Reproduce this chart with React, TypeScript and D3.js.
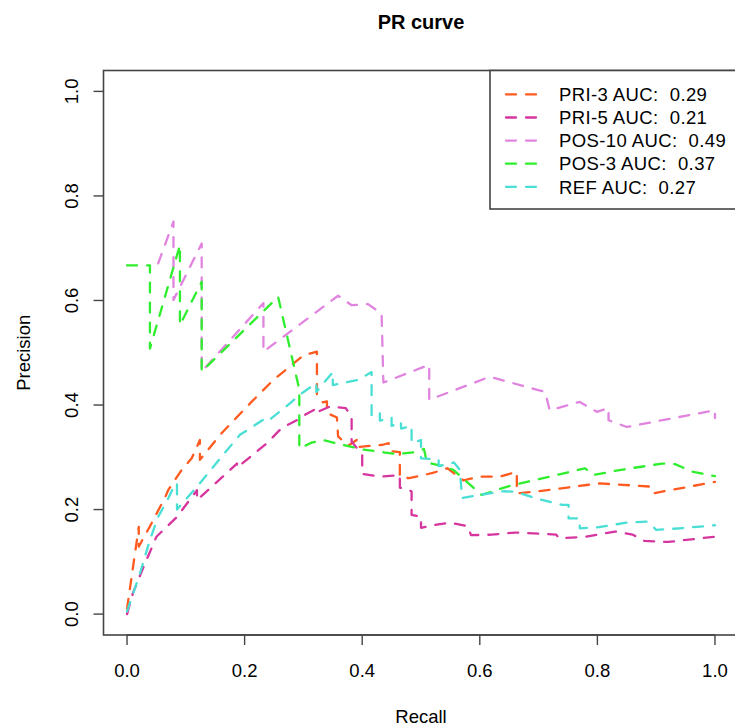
import React from "react";
import * as d3 from "d3";

const seriesNames = ["PRI-3", "PRI-5", "POS-10", "POS-3", "REF"];
const aucValues = ["0.29", "0.21", "0.49", "0.37", "0.27"];
const seriesColors = ["#FF5A1F", "#D6359F", "#E184E0", "#2EEE2E", "#4ADFD5"];
const xTicks = [0, 0.2, 0.4, 0.6, 0.8, 1.0];
const yTicks = [0, 0.2, 0.4, 0.6, 0.8, 1.0];

const pri3: [number, number][] = [
  [0, 0.01], [0.02, 0.167], [0.02, 0.129], [0.04, 0.17], [0.065, 0.224], [0.07, 0.237],
  [0.087, 0.266], [0.093, 0.276], [0.11, 0.298], [0.124, 0.333], [0.124, 0.295],
  [0.16, 0.345], [0.21, 0.404], [0.249, 0.448], [0.30, 0.495], [0.323, 0.502],
  [0.323, 0.42], [0.333, 0.405], [0.34, 0.407], [0.34, 0.385], [0.357, 0.376],
  [0.359, 0.34], [0.376, 0.322], [0.393, 0.335], [0.395, 0.32], [0.435, 0.324],
  [0.445, 0.327], [0.447, 0.312], [0.464, 0.31], [0.464, 0.262], [0.48, 0.26],
  [0.52, 0.27], [0.545, 0.279], [0.572, 0.256], [0.60, 0.263], [0.634, 0.263],
  [0.663, 0.272], [0.663, 0.231], [0.70, 0.235], [0.782, 0.247], [0.804, 0.25],
  [0.889, 0.244], [0.895, 0.231], [1.0, 0.253],
];

const pri5: [number, number][] = [
  [0, 0.0], [0.01, 0.04], [0.028, 0.09], [0.05, 0.148], [0.085, 0.186], [0.119, 0.237],
  [0.119, 0.218], [0.16, 0.26], [0.187, 0.288], [0.187, 0.28], [0.238, 0.327],
  [0.263, 0.356], [0.289, 0.371], [0.305, 0.383], [0.32, 0.392], [0.32, 0.385],
  [0.345, 0.397], [0.372, 0.394], [0.382, 0.378], [0.382, 0.33], [0.40, 0.305],
  [0.40, 0.268], [0.43, 0.263], [0.464, 0.266], [0.464, 0.242], [0.484, 0.235],
  [0.484, 0.19], [0.50, 0.186], [0.50, 0.165], [0.52, 0.17], [0.55, 0.175],
  [0.58, 0.168], [0.585, 0.151], [0.62, 0.152], [0.66, 0.156], [0.70, 0.154],
  [0.73, 0.152], [0.735, 0.145], [0.78, 0.148], [0.83, 0.158], [0.86, 0.152],
  [0.88, 0.14], [0.92, 0.138], [1.0, 0.148],
];

const pos10: [number, number][] = [
  [0.053, 0.671], [0.079, 0.751], [0.079, 0.601], [0.127, 0.709], [0.127, 0.464],
  [0.232, 0.595], [0.232, 0.502], [0.359, 0.609], [0.382, 0.591], [0.41, 0.593],
  [0.433, 0.575], [0.436, 0.443], [0.514, 0.477], [0.514, 0.41], [0.617, 0.454],
  [0.711, 0.425], [0.719, 0.39], [0.77, 0.406], [0.799, 0.387], [0.819, 0.394],
  [0.819, 0.371], [0.85, 0.358], [1.0, 0.39], [1.0, 0.375],
];

const pos3: [number, number][] = [
  [0, 0.667], [0.039, 0.667], [0.039, 0.508], [0.09, 0.706], [0.09, 0.553],
  [0.127, 0.636], [0.127, 0.464], [0.257, 0.607], [0.293, 0.43], [0.293, 0.317],
  [0.314, 0.328], [0.333, 0.333], [0.40, 0.315], [0.46, 0.306], [0.49, 0.31],
  [0.505, 0.316], [0.51, 0.29], [0.53, 0.285], [0.555, 0.276], [0.603, 0.228],
  [0.65, 0.245], [0.70, 0.258], [0.779, 0.279], [0.793, 0.266], [0.84, 0.276],
  [0.91, 0.288], [0.932, 0.287], [0.963, 0.272], [1.0, 0.264],
];

const ref: [number, number][] = [
  [0, 0.005], [0.022, 0.078], [0.039, 0.142], [0.053, 0.186], [0.07, 0.221],
  [0.082, 0.25], [0.085, 0.25], [0.085, 0.2], [0.12, 0.245], [0.16, 0.3],
  [0.192, 0.343], [0.232, 0.372], [0.238, 0.368], [0.277, 0.403], [0.294, 0.42],
  [0.322, 0.442], [0.322, 0.425], [0.35, 0.463], [0.35, 0.438], [0.393, 0.448],
  [0.416, 0.463], [0.416, 0.378], [0.43, 0.384], [0.43, 0.37], [0.45, 0.376],
  [0.45, 0.36], [0.466, 0.368], [0.466, 0.355], [0.484, 0.36], [0.484, 0.327],
  [0.50, 0.333], [0.50, 0.298], [0.53, 0.296], [0.53, 0.283], [0.556, 0.29],
  [0.566, 0.276], [0.57, 0.222], [0.60, 0.228], [0.64, 0.235], [0.66, 0.234],
  [0.70, 0.22], [0.74, 0.209], [0.751, 0.209], [0.751, 0.183], [0.77, 0.183],
  [0.77, 0.164], [0.80, 0.166], [0.85, 0.175], [0.885, 0.177], [0.895, 0.167],
  [0.90, 0.161], [0.95, 0.165], [1.0, 0.17],
];

const allSeries = [pri3, pri5, pos10, pos3, ref];

const W = 735;
const H = 726;
const FONT = "'Liberation Sans', Arial, Helvetica, sans-serif";

export default function App() {
  const x = d3.scaleLinear().domain([-0.04, 1.04]).range([103.5, 738.5]);
  const y = d3.scaleLinear().domain([-0.04, 1.04]).range([635, 70.5]);
  const line = d3
    .line<[number, number]>()
    .x((d) => x(d[0]))
    .y((d) => y(d[1]));

  const x0 = x(-0.04);
  const x1 = x(1.04);
  const y0 = y(-0.04);
  const y1 = y(1.04);
  const fs = 18.5;

  const legLeft = 490;
  const legTop = y1;
  const legBottom = 209;
  const rowY = (i: number) => 94.4 + i * 23.1;

  return (
    <svg
      width={W}
      height={H}
      style={{ position: "absolute", left: 0, top: 0, background: "#fff" }}
      fontFamily={FONT}
    >
      <rect x={0} y={0} width={W} height={H} fill="#fff" />
      <text x={(x0 + x1) / 2} y={29} textAnchor="middle" fontWeight="bold" fontSize={20} fill="#000">
        PR curve
      </text>
      <g>
        {allSeries.map((s, i) => (
          <path
            key={i}
            d={line(s) || ""}
            fill="none"
            stroke={seriesColors[i]}
            strokeWidth={2.3}
            strokeDasharray="10 10"
            strokeLinecap="round"
            strokeLinejoin="round"
          />
        ))}
      </g>
      <rect x={x0} y={y1} width={x1 - x0} height={y0 - y1} fill="none" stroke="#444" strokeWidth={1.6} />
      {/* x axis */}
      <line x1={x(0)} x2={x(1)} y1={y0} y2={y0} stroke="#444" strokeWidth={1.4} />
      {xTicks.map((t) => (
        <g key={"x" + t}>
          <line x1={x(t)} x2={x(t)} y1={y0} y2={y0 + 10} stroke="#444" strokeWidth={1.4} />
          <text x={x(t)} y={677} textAnchor="middle" fontSize={fs} fill="#000">
            {t.toFixed(1)}
          </text>
        </g>
      ))}
      {/* y axis */}
      {yTicks.map((t) => (
        <g key={"y" + t}>
          <line x1={x0 - 10} x2={x0} y1={y(t)} y2={y(t)} stroke="#444" strokeWidth={1.4} />
          <text
            transform={`translate(${x0 - 26},${y(t)}) rotate(-90)`}
            textAnchor="middle"
            fontSize={fs}
            fill="#000"
          >
            {t.toFixed(1)}
          </text>
        </g>
      ))}
      <text x={(x0 + x1) / 2} y={723} textAnchor="middle" fontSize={fs} fill="#000">
        Recall
      </text>
      <text
        transform={`translate(30,${(y0 + y1) / 2}) rotate(-90)`}
        textAnchor="middle"
        fontSize={fs}
        fill="#000"
      >
        Precision
      </text>
      {/* legend */}
      <rect
        x={legLeft}
        y={legTop}
        width={W + 10 - legLeft}
        height={legBottom - legTop}
        fill="#fff"
        stroke="#444"
        strokeWidth={1.6}
      />
      {seriesNames.map((n, i) => (
        <g key={n}>
          <line
            x1={506}
            x2={536}
            y1={rowY(i)}
            y2={rowY(i)}
            stroke={seriesColors[i]}
            strokeWidth={2.3}
            strokeDasharray="10 10"
            strokeLinecap="round"
          />
          <text x={559} y={rowY(i) + 6.7} fontSize={fs} letterSpacing={0.4} fill="#000">
            {n + " AUC:\u00A0\u00A0" + aucValues[i]}
          </text>
        </g>
      ))}
    </svg>
  );
}
